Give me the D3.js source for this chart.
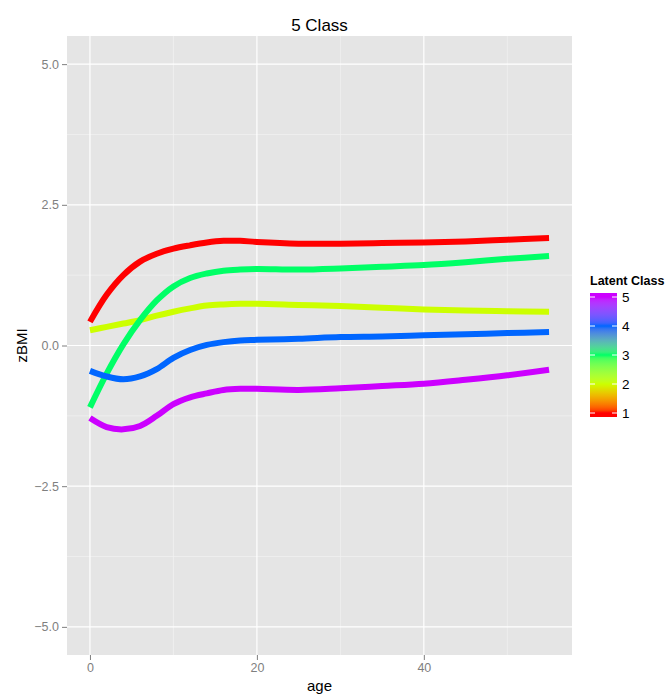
<!DOCTYPE html>
<html>
<head>
<meta charset="utf-8">
<script src="https://cdnjs.cloudflare.com/ajax/libs/d3/7.8.5/d3.min.js"></script>
<style>
  body { margin: 0; background: #fff; }
  svg { display: block; font-family: "Liberation Sans", Arial, sans-serif; }
</style>
</head>
<body>
<svg id="chart" width="668" height="694"></svg>
<script>
// data
const ages = [0, 2, 4, 6, 8, 10, 12, 14, 16, 18, 20, 25, 30, 35, 40, 45, 50, 55];
const classes = [1, 2, 3, 4, 5];
const classColors = ["#FF0000", "#CCFF00", "#00FF66", "#0066FF", "#CC00FF"];
const class1 = [0.42, 0.90, 1.25, 1.49, 1.63, 1.72, 1.78, 1.83, 1.86, 1.86, 1.84, 1.81, 1.81, 1.82, 1.83, 1.85, 1.88, 1.91];
const class2 = [0.27, 0.33, 0.39, 0.45, 0.53, 0.60, 0.66, 0.71, 0.73, 0.74, 0.74, 0.72, 0.70, 0.67, 0.64, 0.62, 0.61, 0.60];
const class3 = [-1.10, -0.50, 0.02, 0.45, 0.80, 1.05, 1.20, 1.28, 1.33, 1.35, 1.36, 1.35, 1.37, 1.40, 1.43, 1.48, 1.54, 1.59];
const class4 = [-0.45, -0.55, -0.60, -0.55, -0.42, -0.22, -0.08, 0.01, 0.06, 0.09, 0.10, 0.12, 0.15, 0.16, 0.18, 0.20, 0.22, 0.24];
const class5 = [-1.29, -1.45, -1.49, -1.43, -1.25, -1.04, -0.92, -0.85, -0.79, -0.77, -0.77, -0.79, -0.76, -0.72, -0.68, -0.61, -0.53, -0.43];
const seriesValues = [class1, class2, class3, class4, class5];
const xTicks = [0, 20, 40];
const xMinor = [10, 30, 50];
const yTicks = [-5, -2.5, 0, 2.5, 5];
const yMinor = [-3.75, -1.25, 1.25, 3.75];

// panel box
const panel = { left: 67, right: 572, top: 36, bottom: 655 };
const svg = d3.select("#chart");

const x = d3.scaleLinear().domain([-2.75, 57.75]).range([panel.left, panel.right]);
const y = d3.scaleLinear().domain([-5.5, 5.5]).range([panel.bottom, panel.top]);

// panel background
svg.append("rect")
  .attr("x", panel.left).attr("y", panel.top)
  .attr("width", panel.right - panel.left).attr("height", panel.bottom - panel.top)
  .attr("fill", "#E5E5E5");

// minor grid
const grid = svg.append("g");
grid.selectAll(".vminor").data(xMinor).join("line")
  .attr("x1", d => x(d)).attr("x2", d => x(d))
  .attr("y1", panel.top).attr("y2", panel.bottom)
  .attr("stroke", "#F2F2F2").attr("stroke-width", 0.7);
grid.selectAll(".hminor").data(yMinor).join("line")
  .attr("y1", d => y(d)).attr("y2", d => y(d))
  .attr("x1", panel.left).attr("x2", panel.right)
  .attr("stroke", "#F2F2F2").attr("stroke-width", 0.7);
// major grid
grid.selectAll(".vmajor").data(xTicks).join("line")
  .attr("x1", d => x(d)).attr("x2", d => x(d))
  .attr("y1", panel.top).attr("y2", panel.bottom)
  .attr("stroke", "#fff").attr("stroke-width", 1.2);
grid.selectAll(".hmajor").data(yTicks).join("line")
  .attr("y1", d => y(d)).attr("y2", d => y(d))
  .attr("x1", panel.left).attr("x2", panel.right)
  .attr("stroke", "#fff").attr("stroke-width", 1.2);

// lines
const line = d3.line()
  .x((d, i) => x(ages[i]))
  .y(d => y(d))
  .curve(d3.curveCatmullRom.alpha(0.5));

svg.append("g").selectAll("path")
  .data(seriesValues)
  .join("path")
  .attr("d", d => line(d))
  .attr("fill", "none")
  .attr("stroke", (d, i) => classColors[i])
  .attr("stroke-width", 6)
  .attr("stroke-linecap", "butt");

// axes
const xAxis = svg.append("g")
  .attr("transform", `translate(0,${panel.bottom})`)
  .call(d3.axisBottom(x).tickValues(xTicks).tickSize(5).tickPadding(3).tickFormat(d3.format("d")));
const yAxis = svg.append("g")
  .attr("transform", `translate(${panel.left},0)`)
  .call(d3.axisLeft(y).tickValues(yTicks).tickSize(5).tickPadding(3)
    .tickFormat(d => d3.format(".1f")(d).replace("-", "\u2212")));
[xAxis, yAxis].forEach(a => {
  a.select(".domain").remove();
  a.selectAll(".tick line").attr("stroke", "#7F7F7F").attr("stroke-width", 1);
  a.selectAll(".tick text").attr("fill", "#7F7F7F").style("font-size", "12.5px")
    .style("font-family", "'Liberation Sans', Arial, sans-serif");
});

// titles
svg.append("text")
  .attr("x", (panel.left + panel.right) / 2).attr("y", 31)
  .attr("text-anchor", "middle")
  .style("font-size", "17px")
  .text("5 Class");

svg.append("text")
  .attr("x", (panel.left + panel.right) / 2).attr("y", 691)
  .attr("text-anchor", "middle")
  .style("font-size", "15px")
  .text("age");

svg.append("text")
  .attr("transform", `translate(27,${(panel.top + panel.bottom) / 2}) rotate(-90)`)
  .attr("text-anchor", "middle")
  .style("font-size", "15px")
  .text("zBMI");

// legend colourbar
const legend = svg.append("g");
const barX = 590, barW = 27;
const ly = d3.scaleLinear().domain([1, 5]).range([413, 297]);

const defs = svg.append("defs");
const grad = defs.append("linearGradient")
  .attr("id", "legendGrad")
  .attr("x1", 0).attr("y1", 1).attr("x2", 0).attr("y2", 0);
const barTop = 293, barBottom = 417;
const colorScale = d3.scaleLinear().domain(classes).range(classColors).interpolate(d3.interpolateLab);
grad.append("stop").attr("offset", 0).attr("stop-color", classColors[0]);
d3.range(0, 41).forEach(i => {
  const v = 1 + i * 0.1;
  const offset = (barBottom - ly(v)) / (barBottom - barTop);
  grad.append("stop")
    .attr("offset", Math.max(0, Math.min(1, offset)))
    .attr("stop-color", colorScale(v));
});
grad.append("stop").attr("offset", 1).attr("stop-color", classColors[4]);

legend.append("rect")
  .attr("x", barX).attr("y", barTop)
  .attr("width", barW).attr("height", barBottom - barTop)
  .attr("fill", "url(#legendGrad)");

legend.selectAll(".tl").data(classes).join("line")
  .attr("x1", barX).attr("x2", barX + 5)
  .attr("y1", d => ly(d)).attr("y2", d => ly(d))
  .attr("stroke", "#fff").attr("stroke-width", 1);
legend.selectAll(".tr").data(classes).join("line")
  .attr("x1", barX + barW - 5).attr("x2", barX + barW)
  .attr("y1", d => ly(d)).attr("y2", d => ly(d))
  .attr("stroke", "#fff").attr("stroke-width", 1);

legend.selectAll(".lab").data(classes).join("text")
  .attr("x", 622).attr("y", d => ly(d))
  .attr("dominant-baseline", "central")
  .style("font-size", "13.5px")
  .text(d => d);

// title shrunk slightly so the whole word fits inside the page
legend.append("text")
  .attr("x", 590).attr("y", 285)
  .style("font-size", "12.5px")
  .style("font-weight", "bold")
  .text("Latent Class");
</script>
</body>
</html>
